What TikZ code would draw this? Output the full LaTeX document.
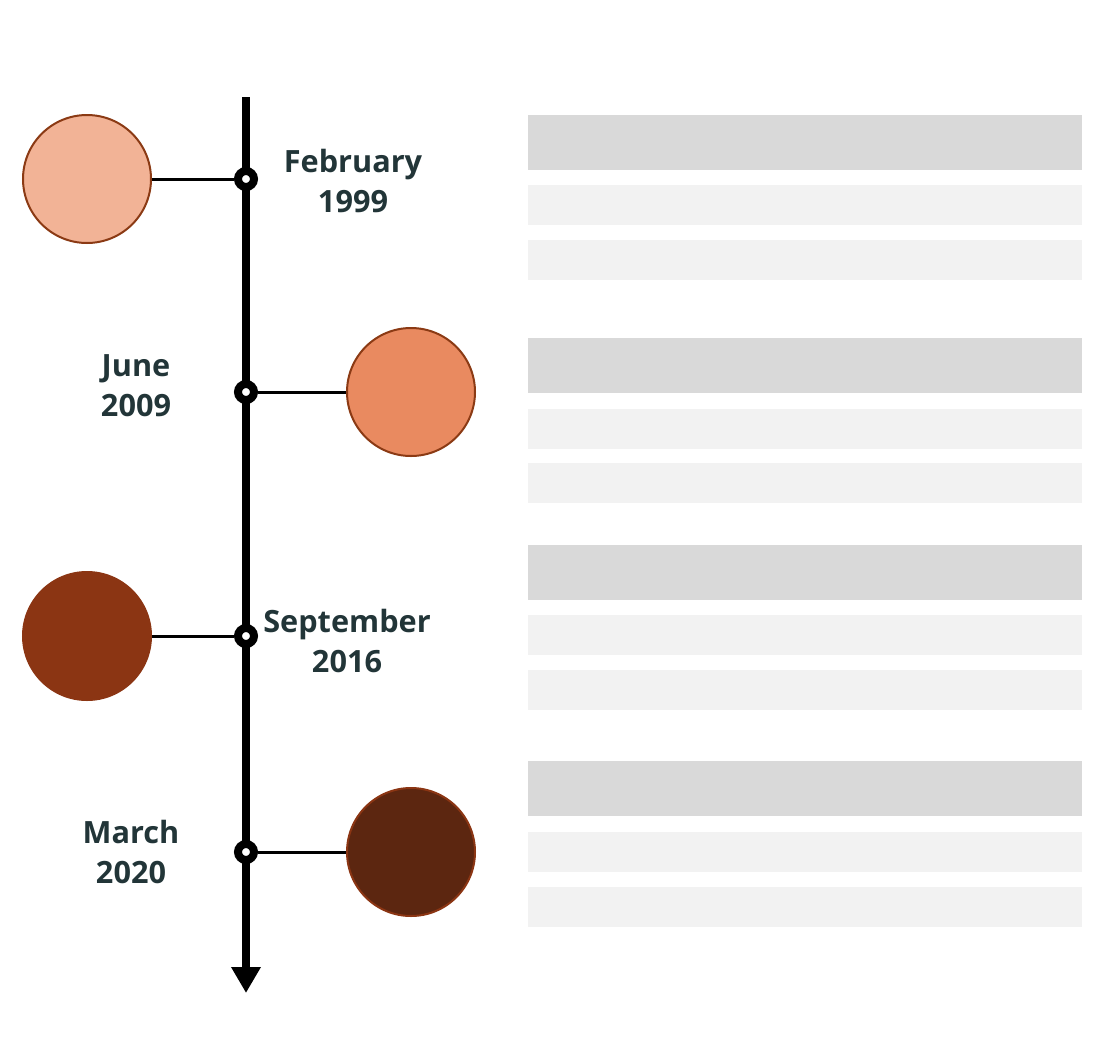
\documentclass[tikz,border=0pt]{standalone}
\usepackage{fontspec}
\setmainfont{Open Sans}
\usepackage{xcolor}
\usetikzlibrary{arrows.meta, positioning}
\definecolor{peachlight}{HTML}{F2B396}
\definecolor{peachmid}{HTML}{E98A60}
\definecolor{rust}{HTML}{8B3513}
\definecolor{rustdark}{HTML}{5C2610}
\definecolor{rim}{HTML}{8B3A14}
\definecolor{slate}{HTML}{223538}
\definecolor{bardark}{HTML}{D9D9D9}
\definecolor{barlight}{HTML}{F2F2F2}
\tikzset{
  event/.style={circle, draw=rim, line width=1.5pt, minimum size=96pt, inner sep=0pt},
  marker/.style={circle, draw=black, fill=white, line width=6pt, minimum size=12pt, inner sep=0pt},
  link/.style={line width=2.25pt},
  axis/.style={-{Triangle[width=21pt, length=19.5pt]}, line width=6pt},
  datelabel/.style={align=center, text=slate, font=\bfseries\fontsize{23pt}{30pt}\selectfont},
  headbar/.style={rectangle, fill=bardark, anchor=north west, minimum width=415.5pt, minimum height=41.25pt, inner sep=0pt},
  textbar/.style={rectangle, fill=barlight, anchor=north west, minimum width=415.5pt, minimum height=30pt, inner sep=0pt},
}

\begin{document}
\begin{tikzpicture}[x=0.75pt, y=-0.75pt]
    \useasboundingbox (0,0) rectangle (1097,1043);
    % timeline
    \coordinate (top) at (246,97);
    \coordinate (bottom) at (246,993);
    \draw[axis] (top) -- (bottom);
    % events
    \node[event, fill=peachlight] (c1) at (87,179) {};
    \node[event, fill=peachmid] (c2) at (411,392) {};
    \node[event, fill=rust, draw=rust] (c3) at (87,636) {};
    \node[event, fill=rustdark, draw=rust] (c4) at (411,852) {};
    \node[marker] (m1) at (246,179) {};
    \node[marker] (m2) at (246,392) {};
    \node[marker] (m3) at (246,636) {};
    \node[marker] (m4) at (246,852) {};
    \draw[link] (c1) -- (m1);
    \draw[link] (m2) -- (c2);
    \draw[link] (c3) -- (m3);
    \draw[link] (m4) -- (c4);
    % dates
    \node[datelabel] (d1) at (353,181) {February\\1999};
    \node[datelabel] (d2) at (136,386) {June\\2009};
    \node[datelabel] (d3) at (347,641) {September\\2016};
    \node[datelabel] (d4) at (131,852) {March\\2020};
    % text placeholders
    \node[headbar] (h1) at (528,115) {};
    \node[textbar] (t1a) at (528,185) {};
    \node[textbar] (t1b) at (528,240) {};
    \node[headbar] (h2) at (528,338) {};
    \node[textbar] (t2a) at (528,409) {};
    \node[textbar] (t2b) at (528,463) {};
    \node[headbar] (h3) at (528,545) {};
    \node[textbar] (t3a) at (528,615) {};
    \node[textbar] (t3b) at (528,670) {};
    \node[headbar] (h4) at (528,761) {};
    \node[textbar] (t4a) at (528,832) {};
    \node[textbar] (t4b) at (528,887) {};
\end{tikzpicture}
\end{document}
